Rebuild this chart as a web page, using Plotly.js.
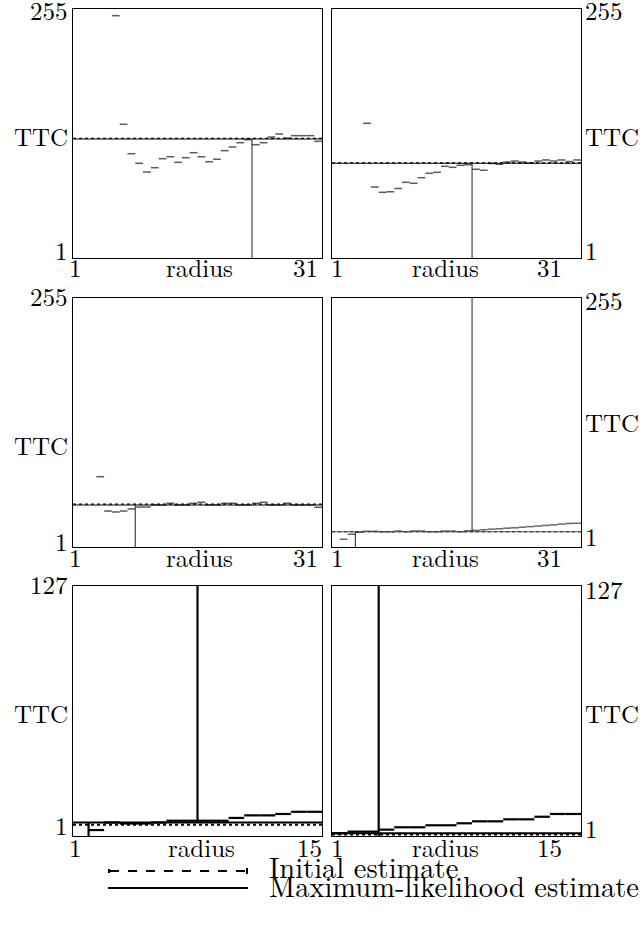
<!DOCTYPE html>
<html><head><meta charset="utf-8">
<script src="https://cdn.plot.ly/plotly-3.0.1.min.js"></script>
<style>html,body{margin:0;padding:0;background:#fff}#chart{width:644px;height:932px}</style>
</head><body><div id="chart"></div>
<script>
// ---- data (TTC per radius bin; null = no mark) ----
const ttcPanel1 = [null,null,null,null,null,248.2,137.4,107.4,97.6,88.7,93.1,102.3,104.3,98.6,103.3,108.4,104.3,99.2,101.7,110.5,114.2,118.6,121.7,116.6,118.6,124.4,127.5,123.4,125.8,125.8,125.8,120.0];
const ttcPanel2 = [null,null,null,null,138.4,73.4,68.0,68.6,71.9,78.2,77.2,82.9,87.4,88.4,94.5,93.5,95.6,96.2,91.5,90.5,97.4,96.6,98.9,99.9,98.9,97.9,99.9,101.0,99.9,101.0,99.4,101.0];
const ttcPanel3 = [null,null,null,72.7,37.7,36.7,37.7,39.8,41.8,41.8,43.8,43.8,45.6,43.8,43.8,45.6,46.6,43.8,43.8,45.6,45.6,43.8,43.8,45.6,46.6,43.8,43.8,45.6,43.8,43.8,43.8,41.5];
const ttcPanel4 = [null,8.9,14.0,16.0,17.0,17.0,16.6,16.6,17.3,16.6,17.3,17.3,16.6,16.6,17.3,17.3,16.6,17.6,18.0,18.6,19.2,19.6,20.2,20.6,21.2,21.8,22.4,23.0,23.6,24.4,25.0,25.2];
const ttcPanel5 = [null,4.0,7.8,7.3,7.3,7.8,8.7,8.7,8.7,8.7,10.1,11.4,11.4,12.1,13.2,13.2];
const ttcPanel6 = [2.4,3.2,3.2,4.2,5.4,5.4,6.4,6.4,7.4,8.4,8.4,9.4,9.4,10.7,12.1,12.1];
const initialEstimate = [123.0, 98.0, 44.8, 16.6, 6.7, 1.8];
const mlEstimate = [122.4, 97.6, 43.8, 16.6, 7.8, 2.4];
// vertical markers: [bin edge, from TTC, to TTC]
const markers = [
  [[23, 1, 122.4]],
  [[18, 1, 97.6]],
  [[8, 1, 43.8]],
  [[3, 1, 16.6], [18, 16.6, 255]],
  [[1, 1, 7.8], [8, 7.8, 127]],
  [[3, 1, 127]]
];
const yMax = [255, 255, 255, 255, 127, 127];
const xTickLabels = [['1','31'],['1','31'],['1','31'],['1','31'],['1','15'],['1','15']];
const yTickLabels = [['255','1'],['255','1'],['255','1'],['255','1'],['127','1'],['127','1']];
const legendLabels = ['Initial estimate', 'Maximum-likelihood estimate'];

// ---- layout geometry (pixels) ----
const W = 644, H = 932;
const colX = [[73, 322], [332, 581]];
const rowY = [[9, 258], [298, 547], [586, 836]];
const px = x => x / W;
const py = y => 1 - y / H;
const FONT = 'Latin Modern Roman, Liberation Serif, serif';
const axisFont = {family: FONT, size: 25, color: '#000'};
const legendFont = {family: FONT, size: 28.5, color: '#000'};
const TXT_SHIFT = -5;   // compensates the tall line box of the font

const ttc = [ttcPanel1, ttcPanel2, ttcPanel3, ttcPanel4, ttcPanel5, ttcPanel6];
const traces = [];
const layout = {
  width: W, height: H, margin: {l:0, r:0, t:0, b:0},
  paper_bgcolor: '#fff', plot_bgcolor: '#fff', showlegend: false,
  font: axisFont,
  annotations: [], shapes: []
};

function label(x, y, text, xanchor, font) {
  layout.annotations.push({xref: 'paper', yref: 'paper', showarrow: false,
    x: px(x), xanchor: xanchor, y: py(y + TXT_SHIFT), yanchor: 'middle',
    text: text, borderpad: 0, font: font});
}

for (let p = 0; p < 6; p++) {
  const row = Math.floor(p / 2), col = p % 2;
  const suffix = p === 0 ? '' : String(p + 1);
  const xa = 'x' + suffix, ya = 'y' + suffix;
  const nb = ttc[p].length;
  const bottom = row === 2;
  const axCommon = {showline: true, mirror: true, linecolor: '#000', linewidth: 1.3,
    showgrid: false, zeroline: false, showticklabels: false, ticks: '', fixedrange: true};
  layout['xaxis' + suffix] = Object.assign({}, axCommon, {
    domain: [px(colX[col][0]), px(colX[col][1])], range: [0, nb], anchor: ya});
  layout['yaxis' + suffix] = Object.assign({}, axCommon, {
    domain: [py(rowY[row][1]), py(rowY[row][0])], range: [1, yMax[p]], anchor: xa});

  // data dashes
  const dx = [], dy = [];
  ttc[p].forEach((v, i) => { if (v !== null) { dx.push(i, i + 1, null); dy.push(v, v, null); } });
  const dashColor = bottom ? '#000' : (p === 3 ? '#666' : '#5a5a5a');
  traces.push({x: dx, y: dy, xaxis: xa, yaxis: ya, mode: 'lines', hoverinfo: 'skip',
    line: {color: dashColor, width: bottom ? 2.2 : 1.5}});
  // initial estimate (dotted)
  traces.push({x: [0, nb], y: [initialEstimate[p], initialEstimate[p]], xaxis: xa, yaxis: ya,
    mode: 'lines', name: legendLabels[0], line: {color: '#000', width: bottom ? 2 : 1.2, dash: 'dot'}});
  // ML estimate (solid)
  traces.push({x: [0, nb], y: [mlEstimate[p], mlEstimate[p]], xaxis: xa, yaxis: ya,
    mode: 'lines', name: legendLabels[1], line: {color: p === 3 ? '#555' : '#000', width: bottom ? 2 : 1.1}});
  // vertical markers
  markers[p].forEach(m => {
    traces.push({x: [m[0], m[0]], y: [m[1], m[2]], xaxis: xa, yaxis: ya, mode: 'lines',
      hoverinfo: 'skip', line: {color: bottom ? '#000' : '#333', width: bottom ? 2.2 : 1.1}});
  });

  // y labels
  const yPos = [
    [[14,140,255],[14,140,255]],
    [[300,449,545],[304,427,540]],
    [[588,717,829],[593,717,832]]
  ][row][col];
  const yText = [yTickLabels[p][0], 'TTC', yTickLabels[p][1]];
  for (let k = 0; k < 3; k++) {
    label(col === 0 ? 69 : 584, yPos[k], yText[k], col === 0 ? 'right' : 'left', axisFont);
  }
  // x labels
  const xy = [272, 561, 851][row];
  const xPos = col === 0 ? [75, bottom ? 201 : 199, bottom ? 309 : 305] : [337, 445, 549];
  const xText = [xTickLabels[p][0], 'radius', xTickLabels[p][1]];
  for (let k = 0; k < 3; k++) {
    label(xPos[k], xy, xText[k], 'center', axisFont);
  }
}

// legend (drawn below the panels)
layout.shapes.push({type: 'line', xref: 'paper', yref: 'paper', x0: px(110), x1: px(246), y0: py(871), y1: py(871),
  line: {color: '#000', width: 2, dash: 'dash'}});
layout.shapes.push({type: 'line', xref: 'paper', yref: 'paper', x0: px(109), x1: px(109), y0: py(869), y1: py(873),
  line: {color: '#000', width: 2}});
layout.shapes.push({type: 'line', xref: 'paper', yref: 'paper', x0: px(247), x1: px(247), y0: py(868), y1: py(874),
  line: {color: '#000', width: 2}});
layout.shapes.push({type: 'line', xref: 'paper', yref: 'paper', x0: px(108), x1: px(248), y0: py(888), y1: py(888),
  line: {color: '#000', width: 2.2}});
label(268, 871, legendLabels[0], 'left', legendFont);
label(268, 890, legendLabels[1], 'left', legendFont);

Plotly.newPlot('chart', traces, layout, {staticPlot: true, displayModeBar: false});
</script>
</body></html>
